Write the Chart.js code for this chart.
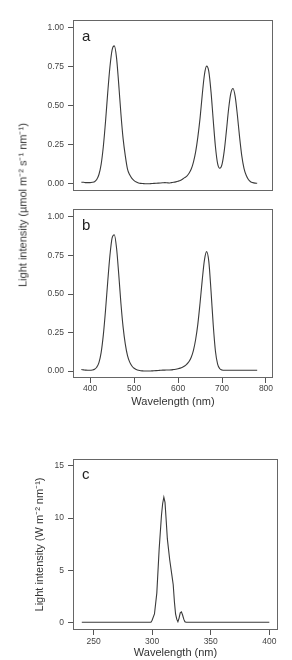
<!DOCTYPE html>
<html>
<head>
<meta charset="utf-8">
<script src="https://cdn.jsdelivr.net/npm/chart.js@4.4.1/dist/chart.umd.min.js"></script>
<style>
  body { margin: 0; background: #fff; width: 292px; height: 660px; position: relative; overflow: hidden; font-family: "Liberation Sans", Arial, sans-serif; }
  .panel { position: absolute; left: 0; }
  .panel canvas { display: block; }
  .ytitle { position: absolute; color: #333; font-size: 11px; white-space: nowrap; transform: translate(-50%, -50%) rotate(-90deg); }
</style>
</head>
<body>
<div class="panel" style="top:0px"><canvas id="chartA" width="292" height="200"></canvas></div>
<div class="panel" style="top:200px"><canvas id="chartB" width="292" height="215"></canvas></div>
<div class="panel" style="top:440px"><canvas id="chartC" width="292" height="220"></canvas></div>
<div class="ytitle" style="left:22px; top:205px">Light intensity (µmol m⁻² s⁻¹ nm⁻¹)</div>

<script>
// wavelengths (nm) for panels a and b
const wavelengthAB = [
  380, 385, 390, 395, 400, 405, 410, 415, 420, 425, 430, 435, 440, 445, 450, 455, 460, 465, 470, 475,
  480, 485, 490, 495, 500, 505, 510, 515, 520, 525, 530, 535, 540, 545, 550, 555, 560, 565, 570, 575,
  580, 585, 590, 595, 600, 605, 610, 615, 620, 625, 630, 635, 640, 645, 650, 655, 660, 665, 670, 675,
  680, 685, 690, 695, 700, 705, 710, 715, 720, 725, 730, 735, 740, 745, 750, 755, 760, 765, 770, 775,
  780
];

// panel a: blue + red + far-red LEDs
const intensityA = [
  0.010, 0.010, 0.008, 0.008, 0.008, 0.010, 0.014, 0.028, 0.060, 0.125, 0.240, 0.400, 0.585, 0.750, 0.860, 0.885, 0.810, 0.640, 0.450, 0.290,
  0.180, 0.095, 0.058, 0.035, 0.021, 0.012, 0.006, 0.003, 0.002, 0.001, 0.001, 0.001, 0.002, 0.003, 0.004, 0.005, 0.006, 0.007, 0.008, 0.007,
  0.006, 0.008, 0.010, 0.013, 0.017, 0.022, 0.030, 0.040, 0.050, 0.068, 0.095, 0.140, 0.205, 0.300, 0.420, 0.570, 0.700, 0.755, 0.720, 0.590,
  0.410, 0.240, 0.130, 0.100, 0.125, 0.210, 0.340, 0.480, 0.580, 0.612, 0.560, 0.440, 0.300, 0.180, 0.100, 0.055, 0.028, 0.014, 0.008, 0.005,
  0.004
];

// panel b: blue + red LEDs
const intensityB = [
  0.010, 0.008, 0.006, 0.005, 0.005, 0.007, 0.012, 0.025, 0.055, 0.120, 0.235, 0.395, 0.580, 0.750, 0.865, 0.885, 0.800, 0.630, 0.440, 0.285,
  0.175, 0.100, 0.058, 0.033, 0.018, 0.010, 0.005, 0.002, 0.001, 0.000, 0.000, 0.000, 0.001, 0.002, 0.003, 0.004, 0.005, 0.006, 0.006, 0.007,
  0.007, 0.008, 0.010, 0.012, 0.015, 0.019, 0.025, 0.033, 0.045, 0.062, 0.090, 0.135, 0.205, 0.305, 0.440, 0.590, 0.720, 0.775, 0.710, 0.520,
  0.300, 0.130, 0.045, 0.015, 0.007, 0.005, 0.005, 0.005, 0.005, 0.005, 0.005, 0.005, 0.005, 0.005, 0.005, 0.005, 0.005, 0.005, 0.005, 0.005,
  0.005
];

// panel c: UV-B lamp (W m-2 nm-1)
const wavelengthC = [240, 299, 300, 302, 304, 306, 308, 309, 310, 311, 312, 313, 315, 317, 318, 319, 320, 321, 322, 323, 324, 325, 326, 327, 328, 329, 400];
const intensityC  = [0, 0, 0.2, 0.8, 2.8, 7.0, 10.3, 11.4, 12.0, 11.5, 9.8, 8.0, 6.0, 4.4, 3.6, 2.0, 0.8, 0.3, 0.05, 0.4, 0.9, 1.0, 0.7, 0.3, 0.05, 0, 0];

// tick labels
const yTicksAB = [0, 0.25, 0.5, 0.75, 1];
const xTicksAB = [400, 500, 600, 700, 800];
const yTicksC = [0, 5, 10, 15];
const xTicksC = [250, 300, 350, 400];

Chart.defaults.font.family = '"Liberation Sans", Arial, sans-serif';
Chart.defaults.color = '#444';

// R-style box around the plot region
const boxPlugin = {
  id: 'box',
  afterDraw(chart) {
    const ctx = chart.ctx;
    const a = chart.chartArea;
    ctx.save();
    ctx.strokeStyle = '#666';
    ctx.lineWidth = 1;
    ctx.strokeRect(Math.round(a.left) + 0.5, Math.round(a.top) + 0.5, Math.round(a.right - a.left) - 1, Math.round(a.bottom - a.top) - 1);
    ctx.restore();
  }
};

// panel letter in the top left corner
const letterPlugin = {
  id: 'panelLetter',
  afterDraw(chart, args, opts) {
    if (!opts.text) return;
    const ctx = chart.ctx;
    const a = chart.chartArea;
    ctx.save();
    ctx.fillStyle = '#222';
    ctx.font = '15px "Liberation Sans", Arial, sans-serif';
    ctx.textBaseline = 'alphabetic';
    ctx.fillText(opts.text, a.left + 9, a.top + opts.dy);
    ctx.restore();
  }
};

function tickGrid() {
  return { drawOnChartArea: false, drawTicks: true, tickLength: 5, tickColor: '#555', lineWidth: 1 };
}

function spectrumChart(id, xs, ys, o) {
  const points = xs.map((x, i) => ({ x: x, y: ys[i] }));
  return new Chart(document.getElementById(id), {
    type: 'line',
    data: {
      datasets: [{
        data: points,
        borderColor: '#3a3a3a',
        borderWidth: 1.1,
        pointRadius: 0,
        tension: o.tension,
        cubicInterpolationMode: o.tension ? 'monotone' : 'default',
        fill: false
      }]
    },
    options: {
      responsive: false,
      animation: false,
      layout: { padding: o.padding },
      plugins: {
        legend: { display: false },
        tooltip: { enabled: false },
        panelLetter: { text: o.letter, dy: o.letterDy }
      },
      scales: {
        x: {
          type: 'linear',
          display: o.showX,
          min: o.xMin,
          max: o.xMax,
          afterBuildTicks: s => { s.ticks = o.xTicks.map(v => ({ value: v })); },
          afterFit: s => { s.height = o.xHeight; },
          grid: tickGrid(),
          border: { display: false },
          ticks: { autoSkip: false, maxRotation: 0, padding: o.xTickPad, font: { size: 8.5 }, color: '#444' },
          title: {
            display: true,
            text: 'Wavelength (nm)',
            color: '#333',
            font: { size: 11 },
            padding: { top: 0, bottom: o.xTitlePad }
          }
        },
        y: {
          min: o.yMin,
          max: o.yMax,
          afterBuildTicks: s => { s.ticks = o.yTicks.map(v => ({ value: v })); },
          afterFit: s => { s.width = o.yWidth; },
          grid: tickGrid(),
          border: { display: false },
          ticks: {
            autoSkip: false,
            padding: 4,
            font: { size: 8.5 },
            color: '#444',
            callback: v => o.yFmt(v)
          },
          title: {
            display: !!o.yTitle,
            text: o.yTitle || '',
            color: '#333',
            font: { size: 11 },
            padding: { top: 4, bottom: 0 }
          }
        }
      }
    },
    plugins: [boxPlugin, letterPlugin]
  });
}

spectrumChart('chartA', wavelengthAB, intensityA, {
  letter: 'a', letterDy: 21, tension: 0.4,
  padding: { left: 0, right: 19, top: 20, bottom: 9 },
  showX: false, xMin: 361, xMax: 816, xTicks: xTicksAB, xHeight: 0, xTickPad: 1, xTitlePad: 6,
  yMin: -0.045, yMax: 1.051, yTicks: yTicksAB, yWidth: 73, yFmt: v => v.toFixed(2)
});

spectrumChart('chartB', wavelengthAB, intensityB, {
  letter: 'b', letterDy: 21, tension: 0.4,
  padding: { left: 0, right: 19, top: 6, bottom: 0 },
  showX: true, xMin: 361, xMax: 816, xTicks: xTicksAB, xHeight: 37, xTickPad: 1, xTitlePad: 6,
  yMin: -0.045, yMax: 1.051, yTicks: yTicksAB, yWidth: 73, yFmt: v => v.toFixed(2)
});

spectrumChart('chartC', wavelengthC, intensityC, {
  letter: 'c', letterDy: 20, tension: 0,
  padding: { left: 29, right: 14, top: 19, bottom: 0 },
  showX: true, xMin: 232.5, xMax: 407.4, xTicks: xTicksC, xHeight: 30, xTickPad: 2, xTitlePad: 0,
  yMin: -0.74, yMax: 15.67, yTicks: yTicksC, yWidth: 44, yFmt: v => String(v),
  yTitle: 'Light intensity (W m⁻² nm⁻¹)'
});
</script>
</body>
</html>
